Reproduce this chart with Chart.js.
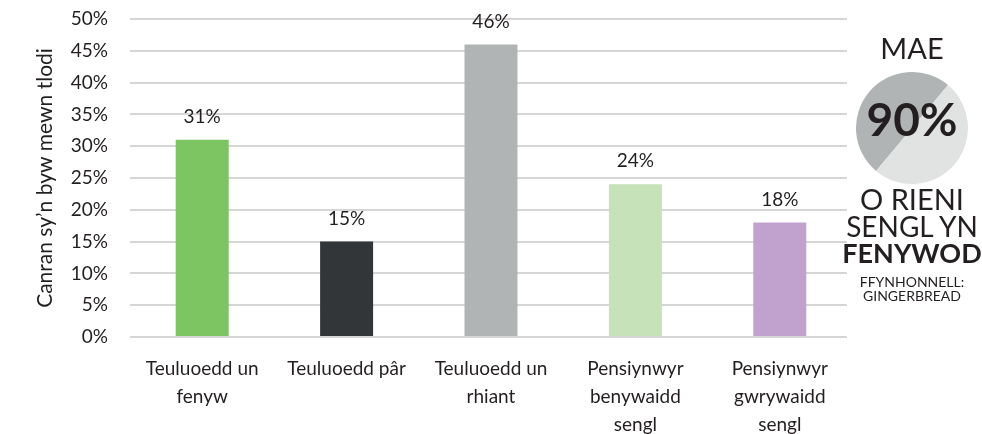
<!DOCTYPE html>
<html>
<head>
<meta charset="utf-8">
<script src="https://cdn.jsdelivr.net/npm/chart.js@4"></script>
<style>
  html, body { margin: 0; padding: 0; background: #fff; }
  #wrap { position: relative; width: 982px; height: 434px; overflow: hidden; font-family: Lato, sans-serif; color: #231f20; }
  #main { position: absolute; left: 0; top: 0; }
  #side { position: absolute; left: 847px; top: 0; width: 135px; height: 434px; background: #fff; }
  #pie { position: absolute; left: 9px; top: 72px; }
  .t { position: absolute; left: -50px; width: 230px; text-align: center; white-space: nowrap; }
</style>
</head>
<body>
<div id="wrap">
  <canvas id="main" width="982" height="434"></canvas>
  <div id="side">
    <div class="t" style="top:30px;font-size:29px;">MAE</div>
    <canvas id="pie" width="112" height="112"></canvas>
    <div class="t" style="top:91px;font-size:46px;font-weight:700;">90%</div>
    <div class="t" style="top:181px;font-size:29px;">O RIENI</div>
    <div class="t" style="top:209px;font-size:28px;">SENGL YN</div>
    <div class="t" style="top:236px;font-size:27px;font-weight:700;">FENYWOD</div>
    <div class="t" style="top:275px;font-size:14px;line-height:14px;">FFYNHONNELL:<br>GINGERBREAD</div>
  </div>
</div>
<script>
/* Canran sy'n byw mewn tlodi — bar chart + side note */
const categories = [
  ['Teuluoedd un', 'fenyw'],
  ['Teuluoedd pâr'],
  ['Teuluoedd un', 'rhiant'],
  ['Pensiynwyr', 'benywaidd', 'sengl'],
  ['Pensiynwyr', 'gwrywaidd', 'sengl']
];
const povertyRates = [31, 15, 46, 24, 18];
const barColours = ['#7dc462', '#333638', '#b1b4b4', '#c6e2b8', '#c1a1cd'];
const yTicksMax = 50;
const yTicksStep = 5;
const pieSplit = [50, 50];

const textColour = '#231f20';
const font = 'Lato, sans-serif';

// value labels above bars
const valueLabels = {
  id: 'valueLabels',
  afterDatasetsDraw(chart) {
    const ctx = chart.ctx;
    const meta = chart.getDatasetMeta(0);
    ctx.save();
    ctx.font = '19px ' + font;
    ctx.fillStyle = textColour;
    ctx.textAlign = 'center';
    ctx.textBaseline = 'middle';
    meta.data.forEach((bar, i) => {
      ctx.fillText(povertyRates[i] + '%', bar.x, bar.y - 23);
    });
    ctx.restore();
  }
};

new Chart(document.getElementById('main').getContext('2d'), {
  type: 'bar',
  data: {
    labels: categories,
    datasets: [{
      data: povertyRates,
      backgroundColor: barColours,
      borderWidth: 0,
      categoryPercentage: 1,
      barPercentage: 0.367
    }]
  },
  options: {
    responsive: false, animation: false,
    layout: { padding: { top: 19, right: 130, bottom: 0, left: 0 } },
    plugins: { legend: { display: false }, tooltip: { enabled: false } },
    scales: {
      x: {
        grid: { display: false },
        border: { display: false },
        ticks: {
          color: textColour, padding: 10, maxRotation: 0, autoSkip: false,
          font: { family: font, size: 19, lineHeight: '28px' }
        },
        afterFit: s => { s.height = 97; }
      },
      y: {
        min: 0, max: yTicksMax,
        // invisible tick marks push the labels away from the grid
        grid: { color: '#d6d6d6', lineWidth: 2, drawTicks: true, tickLength: 19, tickColor: 'rgba(0,0,0,0)' },
        border: { display: false },
        ticks: {
          stepSize: yTicksStep, padding: 3, color: textColour,
          font: { family: font, size: 19 },
          callback: v => v + '%'
        },
        title: {
          display: true, text: 'Canran sy’n byw mewn tlodi', color: textColour,
          font: { family: font, size: 21 }, padding: { top: 33, bottom: 0 }
        },
        afterFit: s => { s.width = 130; }
      }
    }
  },
  plugins: [valueLabels]
});

new Chart(document.getElementById('pie').getContext('2d'), {
  type: 'pie',
  data: {
    labels: ['a', 'b'],
    datasets: [{ data: pieSplit, backgroundColor: ['#b1b4b4', '#e1e2e2'], borderWidth: 0 }]
  },
  options: {
    responsive: false, animation: false, rotation: 220,
    plugins: { legend: { display: false }, tooltip: { enabled: false } }
  }
});
</script>
</body>
</html>
